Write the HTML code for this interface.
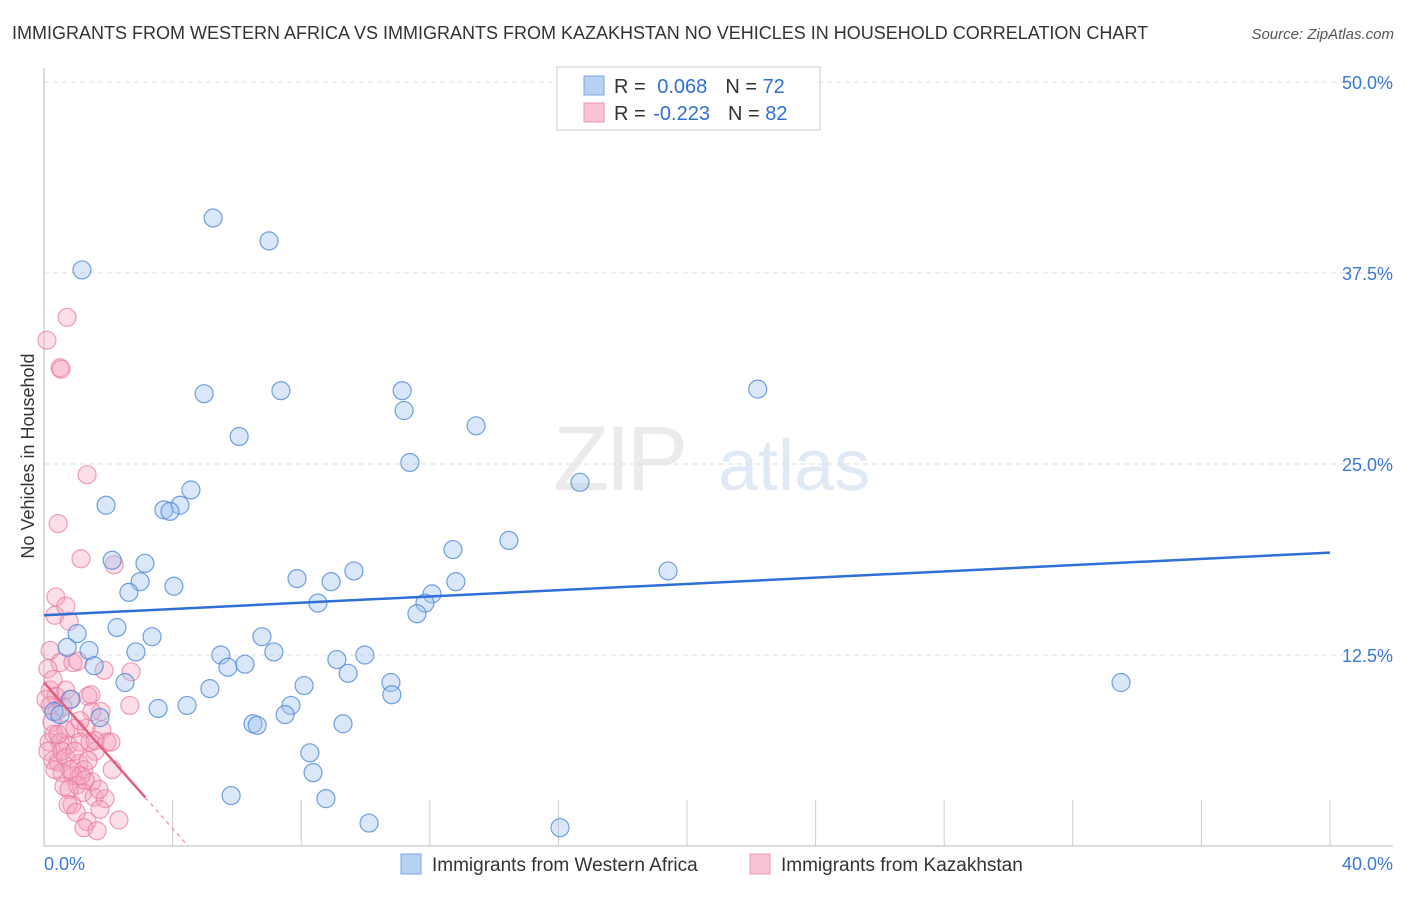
<!DOCTYPE html>
<html><head><meta charset="utf-8"><style>
body{margin:0;background:#fff;font-family:"Liberation Sans",sans-serif;}
svg text{font-family:"Liberation Sans",sans-serif;}
</style></head><body>
<svg id="chart" width="1406" height="892" xmlns="http://www.w3.org/2000/svg">
<text x="12" y="39" font-size="18" fill="#333">IMMIGRANTS FROM WESTERN AFRICA VS IMMIGRANTS FROM KAZAKHSTAN NO VEHICLES IN HOUSEHOLD CORRELATION CHART</text>
<text x="1394" y="39" font-size="15" fill="#555" text-anchor="end" font-style="italic">Source: ZipAtlas.com</text>
<g opacity="0.35">
<text x="553" y="490" font-size="92" fill="#c8c8c8" font-family="Liberation Serif" letter-spacing="-4">ZIP</text>
<text x="718" y="490" font-size="72" fill="#a9c1e6">atlas</text>
</g>
<text transform="translate(34,456) rotate(-90)" font-size="18" fill="#333" text-anchor="middle">No Vehicles in Household</text>
<g id="grid"></g><g id="pts"></g><g id="lines"></g>
<g>
<rect x="557" y="67" width="263" height="63" fill="#fff" stroke="#ccc"/>
<rect x="584" y="76" width="20" height="19" fill="#b7d1f3" stroke="#7aa5e0"/>
<rect x="584" y="103" width="20" height="19" fill="#f9c4d4" stroke="#ec94b1"/>
<text x="614" y="93" font-size="20" fill="#333">R = <tspan fill="#2f6fd6" dx="6">0.068</tspan><tspan fill="#333" dx="18">N = </tspan><tspan fill="#2f6fd6">72</tspan></text>
<text x="614" y="120" font-size="20" fill="#333">R = <tspan fill="#2f6fd6" dx="2">-0.223</tspan><tspan fill="#333" dx="18">N = </tspan><tspan fill="#2f6fd6">82</tspan></text>
</g>
<g>
<rect x="401" y="854" width="20" height="20" fill="#b7d1f3" stroke="#7aa5e0"/>
<text x="432" y="871" font-size="19" fill="#333">Immigrants from Western Africa</text>
<rect x="750" y="854" width="20" height="20" fill="#f9c4d4" stroke="#ec94b1"/>
<text x="781" y="871" font-size="19" fill="#333">Immigrants from Kazakhstan</text>
</g>
</svg>
<script>
const xTicks=[0,40];
const yTicks=[12.5,25,37.5,50];
const blueX=[5.26,7.0,1.18,4.98,7.37,11.14,11.2,22.2,6.07,13.44,11.38,16.67,1.93,4.57,4.23,3.73,3.92,14.46,12.72,2.12,3.14,2.99,4.04,2.64,7.87,8.93,9.64,12.81,12.07,8.52,11.85,11.6,19.41,1.03,2.27,3.36,6.78,0.72,1.4,2.86,5.5,5.72,6.25,7.15,9.11,9.98,1.56,9.46,2.52,5.16,8.09,10.79,10.82,33.5,0.84,3.55,4.45,7.68,7.5,1.74,6.5,6.63,9.3,0.31,0.5,8.27,8.37,5.82,8.77,10.11,16.05];
const blueY=[41.1,39.6,37.7,29.6,29.8,29.8,28.5,29.9,26.8,27.5,25.1,23.8,22.3,23.3,22.3,22.0,21.9,20.0,19.4,18.7,18.5,17.3,17.0,16.6,17.5,17.3,18.0,17.3,16.5,15.9,15.9,15.2,18.0,13.9,14.3,13.7,13.7,13.0,12.8,12.7,12.5,11.7,11.9,12.7,12.2,12.5,11.8,11.3,10.7,10.3,10.5,10.7,9.9,10.7,9.6,9.0,9.2,9.2,8.6,8.4,8.0,7.9,8.0,8.8,8.6,6.1,4.8,3.3,3.1,1.5,1.2];
const pinkX=[0.09,0.72,0.5,0.53,1.34,0.44,1.15,2.18,0.37,0.34,0.68,0.78,0.19,0.5,0.9,1.06,1.87,2.71,0.12,0.19,0.37,1.37,1.46,0.19,0.4,0.81,1.77,2.67,0.25,0.31,0.68,0.96,1.31,1.8,0.16,0.5,0.75,1.12,1.59,1.96,0.28,0.44,0.68,1.09,1.24,0.56,0.9,1.49,1.03,0.62,0.78,1.21,1.56,1.9,0.87,1.74,0.75,1.34,2.33,1.24,1.65,2.12,0.12,0.56,1.49,1.43,1.12,0.96,1.28,0.81,0.06,0.28,0.68,1.15,1.71,0.44,1.37,1.0,1.59,0.59,2.08,0.34];
const pinkY=[33.1,34.6,31.3,31.2,24.3,21.1,18.8,18.4,16.3,15.1,15.7,14.7,12.8,12.0,12.0,12.1,11.5,11.4,11.6,10.2,9.8,9.8,9.9,9.2,8.8,9.6,8.8,9.2,8.1,7.3,7.6,7.7,7.7,7.6,6.8,6.8,6.6,6.8,6.2,6.8,5.6,5.5,5.8,5.4,5.0,4.8,4.6,4.2,4.0,3.9,3.7,3.5,3.2,3.1,2.7,2.4,2.7,1.6,1.7,1.2,1.0,5.0,6.2,6.2,8.8,6.8,8.2,6.2,4.3,5.0,9.6,10.9,10.2,4.6,3.7,7.3,5.6,2.2,6.9,9.1,6.8,5.0];
const blueTrend=[15.1,19.2];
const pinkTrend=[10.7,-0.223];
const NS='http://www.w3.org/2000/svg';
const X=v=>44+v*32.15, Y=v=>846-v*15.28;
function mk(tag,attrs,parent){const e=document.createElementNS(NS,tag);for(const k in attrs)e.setAttribute(k,attrs[k]);parent.appendChild(e);return e;}
const grid=document.getElementById('grid');
yTicks.forEach(t=>{
 const l=mk('line',{x1:44,x2:1393,y1:Y(t),y2:Y(t),stroke:'#ddd','stroke-dasharray':'5,4'},grid);
 
 
 const tx=mk('text',{x:1393,y:Y(t)+7,'font-size':18,fill:'#3a78d8','text-anchor':'end'},grid);
 tx.textContent=t.toFixed(1)+'%';
 
 
});
for(let i=1;i<=10;i++){const v=i*4;
 const l=mk('line',{x1:X(v),x2:X(v),y1:800,y2:846,stroke:'#ccc'},grid);
 
 }
const ax=mk('line',{x1:44,x2:44,y1:68,y2:846,stroke:'#bbb'},grid);


const bx=mk('line',{x1:44,x2:1393,y1:846,y2:846,stroke:'#bbb'},grid);


xTicks.forEach((t,i)=>{
 const tx=mk('text',{x:i?1393:44,y:870,'font-size':18,fill:'#3a78d8','text-anchor':i?'end':'start'},grid);
 tx.textContent=t.toFixed(1)+'%';
 
 
});
const pts=document.getElementById('pts');
pinkX.forEach((v,i)=>{const c=mk('circle',{cx:X(v),cy:Y(pinkY[i]),r:9,fill:'rgba(244,160,188,0.35)',stroke:'rgba(232,120,158,0.7)','stroke-width':1.2},pts);
 
 });
blueX.forEach((v,i)=>{const c=mk('circle',{cx:X(v),cy:Y(blueY[i]),r:9,fill:'rgba(160,195,238,0.4)',stroke:'rgba(70,130,215,0.75)','stroke-width':1.2},pts);
 
 });
const lines=document.getElementById('lines');
const bl=mk('line',{x1:X(0),y1:Y(blueTrend[0]),x2:X(40),y2:Y(blueTrend[1]),stroke:'#2f6fd6','stroke-width':2.5},lines);


const slope=-pinkTrend[0]/4.48;
const pe=3.15, pz=4.48;
const pl=mk('line',{x1:X(0),y1:Y(pinkTrend[0]),x2:X(pe),y2:Y(pinkTrend[0]+slope*pe),stroke:'#e0607f','stroke-width':2.5},lines);


const pd=mk('line',{x1:X(pe),y1:Y(pinkTrend[0]+slope*pe),x2:X(pz),y2:Y(0),stroke:'#f0a0b5','stroke-width':1.5,'stroke-dasharray':'4,4'},lines);


</script>
</body></html>
